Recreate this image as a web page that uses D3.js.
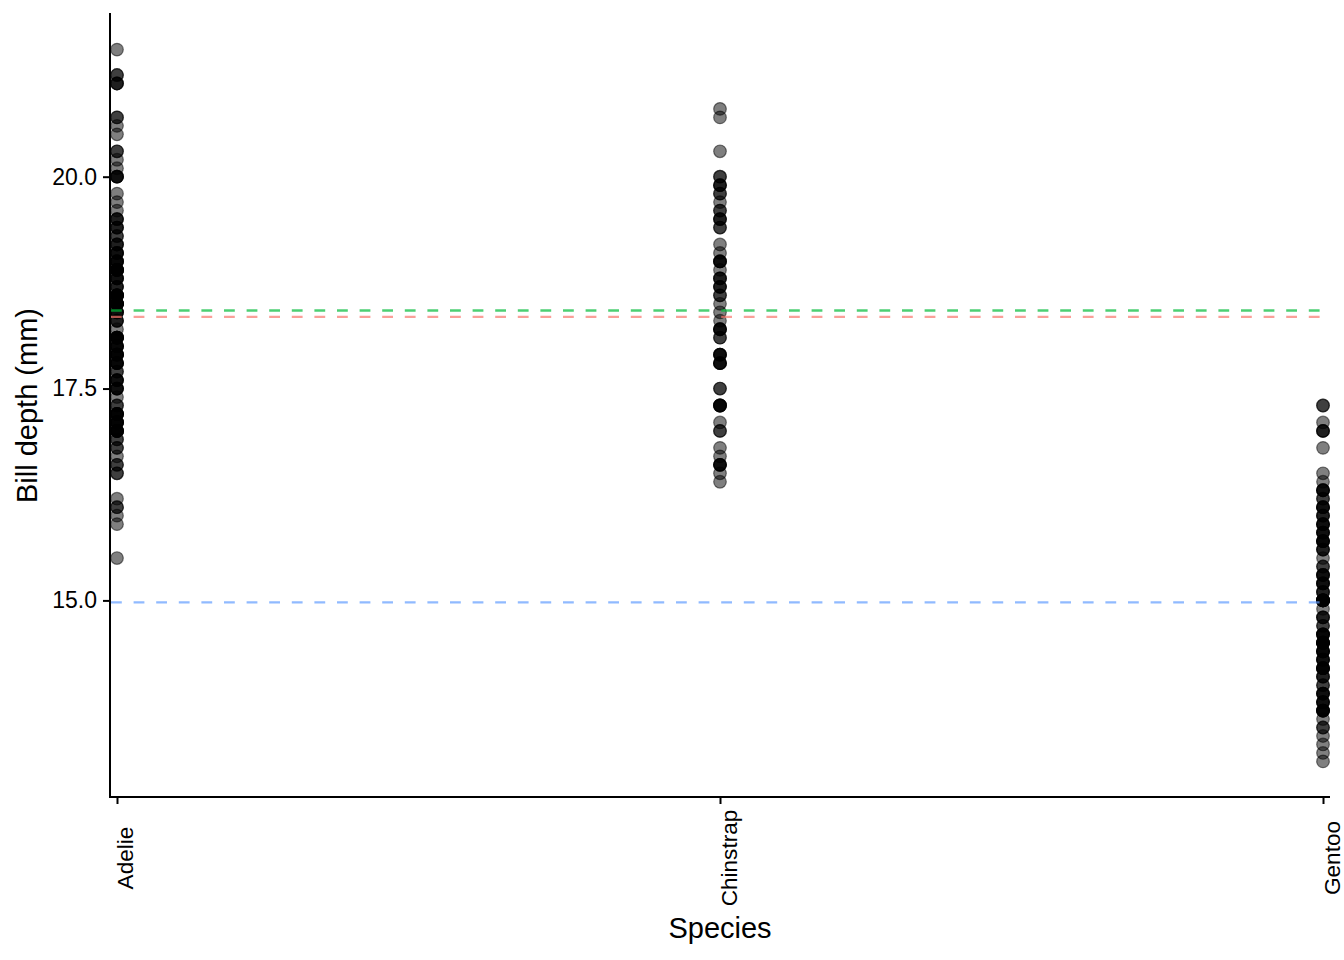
<!DOCTYPE html>
<html>
<head>
<meta charset="utf-8">
<script src="https://cdn.jsdelivr.net/npm/d3@7"></script>
<style>
  body { margin: 0; background: #fff; }
  text { font-family: "Liberation Sans", Arial, sans-serif; fill: #000; }
</style>
</head>
<body>
<svg id="chart" width="1344" height="960"></svg>
<script>
// bill depth (mm) per species
var species = ["Adelie", "Chinstrap", "Gentoo"];
var lineColors = ["#F8766D", "#00BA38", "#619CFF"];
var yTicks = [15.0, 17.5, 20.0];

var adelie = [18.7, 17.4, 18.0, 19.3, 20.6, 17.8, 19.6, 18.1, 20.2, 17.1, 17.3, 17.6, 21.2, 21.1, 17.8, 19.0, 20.7, 18.4, 21.5, 18.3,
  18.7, 19.2, 18.1, 17.2, 18.9, 18.6, 17.9, 18.6, 18.9, 16.7, 18.1, 17.8, 18.9, 17.0, 21.1, 20.0, 18.5, 19.3, 19.1, 18.0,
  18.4, 18.5, 19.7, 16.9, 18.8, 19.0, 18.9, 17.9, 21.2, 17.7, 18.9, 17.9, 19.5, 18.1, 18.6, 17.5, 18.8, 16.6, 19.1, 16.9,
  21.1, 17.0, 18.2, 17.1, 18.0, 16.2, 19.1, 16.6, 19.4, 19.0, 18.4, 17.2, 18.9, 17.5, 18.5, 16.8, 19.4, 16.1, 19.1, 17.2,
  17.6, 18.8, 19.4, 17.8, 20.3, 19.5, 18.6, 19.2, 18.8, 18.0, 18.1, 17.1, 18.1, 17.3, 18.9, 18.6, 18.5, 16.1, 18.5, 17.9,
  20.0, 16.0, 20.0, 18.6, 18.9, 17.2, 20.0, 17.0, 19.0, 16.5, 20.3, 17.7, 19.5, 20.7, 18.3, 17.0, 20.5, 17.0, 18.6, 17.2,
  19.8, 17.0, 18.5, 15.9, 19.0, 17.6, 18.3, 17.1, 18.0, 17.9, 19.2, 18.5, 18.5, 17.6, 17.5, 17.5, 20.1, 16.5, 17.9, 17.1,
  17.2, 15.5, 17.0, 16.8, 18.7, 18.6, 18.4, 17.8, 18.1, 17.1, 18.5];

var chinstrap = [17.9, 19.5, 19.2, 18.7, 19.8, 17.8, 18.2, 18.2, 18.9, 19.9, 17.8, 20.3, 17.3, 18.1, 17.1, 19.6, 20.0, 17.8, 18.6, 18.2,
  17.3, 17.5, 16.6, 19.4, 17.9, 19.0, 18.4, 19.0, 17.8, 20.0, 16.6, 20.8, 16.7, 18.8, 18.6, 16.8, 18.3, 20.7, 16.6, 19.9,
  19.5, 17.5, 19.1, 17.0, 17.9, 18.5, 17.9, 19.6, 18.7, 17.3, 16.4, 19.0, 17.3, 19.7, 17.3, 18.8, 16.6, 19.9, 18.8, 19.4,
  19.5, 16.5, 17.0, 19.8, 18.1, 18.2, 19.0, 18.7];

var gentoo = [13.2, 16.3, 14.1, 15.2, 14.5, 13.5, 14.6, 15.3, 13.4, 15.4, 13.7, 16.1, 13.7, 14.6, 14.6, 15.7, 13.5, 15.2, 14.5, 15.1,
  14.3, 14.5, 14.5, 15.8, 13.1, 15.1, 14.3, 15.0, 14.3, 15.3, 15.3, 14.2, 14.5, 17.0, 14.8, 16.3, 13.7, 17.3, 13.6, 15.7,
  13.7, 16.0, 13.7, 15.0, 15.9, 13.9, 13.9, 15.9, 13.3, 15.8, 14.2, 14.1, 14.4, 15.0, 14.4, 15.4, 13.9, 15.0, 14.5, 15.3,
  13.8, 14.9, 13.9, 15.7, 14.2, 16.8, 14.4, 16.2, 14.2, 15.0, 15.0, 15.6, 15.6, 14.8, 15.0, 16.0, 14.2, 16.3, 13.8, 16.4,
  14.5, 15.6, 14.6, 15.9, 13.8, 17.3, 14.4, 14.2, 14.0, 17.0, 15.0, 17.1, 14.5, 16.1, 14.7, 15.7, 15.8, 14.6, 14.4, 16.5,
  15.0, 17.0, 15.5, 15.0, 13.8, 16.1, 14.7, 15.8, 14.0, 15.1, 15.2, 15.9, 15.2, 16.3, 14.1, 16.0, 16.2, 13.7, 14.3, 15.7,
  14.8, 16.1];

var depths = [adelie, chinstrap, gentoo];

var width = 1344, height = 960;
var margin = {top: 14, right: 14, bottom: 163, left: 110};

var svg = d3.select("#chart");

var points = [];
species.forEach(function(s, i) {
  depths[i].forEach(function(v) { points.push({species: s, depth: v}); });
});

var x = d3.scalePoint()
  .domain(species)
  .range([margin.left, width - margin.right])
  .padding(0.0116);

var yMin = d3.min(points, d => d.depth), yMax = d3.max(points, d => d.depth);
var pad = (yMax - yMin) * 0.05;
var y = d3.scaleLinear()
  .domain([yMin - pad, yMax + pad])
  .range([height - margin.bottom, margin.top]);

// points
svg.append("g")
  .selectAll("circle")
  .data(points)
  .join("circle")
  .attr("cx", d => x(d.species))
  .attr("cy", d => y(d.depth))
  .attr("r", 6.3)
  .attr("fill", "rgba(0,0,0,0.5)")
  .attr("stroke", "rgba(0,0,0,0.5)")
  .attr("stroke-width", 1.2);

// mean lines per species
var means = species.map((s, i) => ({species: s, mean: d3.mean(depths[i]), color: lineColors[i]}));
svg.append("g")
  .selectAll("line")
  .data(means)
  .join("line")
  .attr("x1", margin.left + 1)
  .attr("x2", width - margin.right)
  .attr("y1", d => y(d.mean))
  .attr("y2", d => y(d.mean))
  .attr("stroke", d => d.color)
  .attr("stroke-opacity", 0.7)
  .attr("stroke-width", 2.4)
  .attr("stroke-dasharray", "10.8,11.8");

// y axis
var yAxis = svg.append("g")
  .attr("transform", `translate(${margin.left},0)`)
  .call(d3.axisLeft(y).tickValues(yTicks).tickFormat(d3.format(".1f")).tickSize(7).tickSizeOuter(0));
yAxis.select(".domain").attr("stroke-width", 2).attr("d", `M0,${margin.top - 1}V${height - margin.bottom}`);
yAxis.selectAll(".tick line").attr("stroke-width", 2);
yAxis.selectAll(".tick text")
  .attr("x", -13)
  .attr("font-size", 23)
  .attr("font-family", "Liberation Sans, Arial, sans-serif")
  .attr("fill", "#000");

// x axis
var xAxis = svg.append("g")
  .attr("transform", `translate(0,${height - margin.bottom})`)
  .call(d3.axisBottom(x).tickSize(7).tickSizeOuter(0));
xAxis.select(".domain").attr("stroke-width", 2).attr("d", `M${margin.left - 1},0H${width - margin.right}`);
xAxis.selectAll(".tick line").attr("stroke-width", 2);
xAxis.selectAll(".tick text")
  .attr("transform", "translate(16,61) rotate(-90)")
  .attr("x", 0)
  .attr("y", 0)
  .attr("dy", 0)
  .attr("text-anchor", "middle")
  .attr("font-size", 22.6)
  .attr("font-family", "Liberation Sans, Arial, sans-serif")
  .attr("fill", "#000");

// axis titles
svg.append("text")
  .attr("x", (margin.left + width - margin.right) / 2)
  .attr("y", 938)
  .attr("text-anchor", "middle")
  .attr("font-size", 29)
  .text("Species");

svg.append("text")
  .attr("transform", `translate(37,${(margin.top + height - margin.bottom) / 2}) rotate(-90)`)
  .attr("text-anchor", "middle")
  .attr("font-size", 29)
  .text("Bill depth (mm)");
</script>
</body>
</html>
